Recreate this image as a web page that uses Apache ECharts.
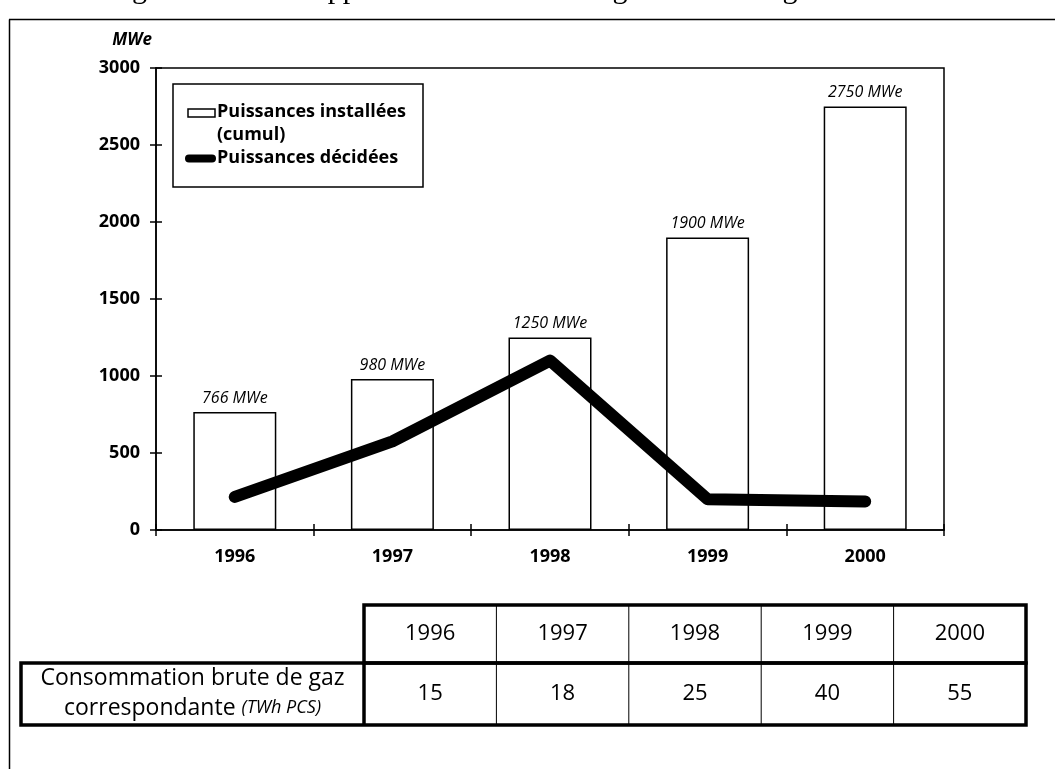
<!DOCTYPE html>
<html>
<head>
<meta charset="utf-8">
<script src="https://cdn.jsdelivr.net/npm/echarts@6/dist/echarts.min.js"></script>
<style>
html,body{margin:0;padding:0;background:#fff;}
#c{width:1055px;height:769px;}
</style>
</head>
<body>
<div id="c"></div>
<script>
// ---- data ----
const years = ['1996', '1997', '1998', '1999', '2000'];
const installed = [766, 980, 1250, 1900, 2750];          // Puissances installées (cumul), MWe
const decided = [215, 575, 1100, 200, 185];               // Puissances décidées, MWe
const yTicks = [0, 500, 1000, 1500, 2000, 2500, 3000];
const tableYears = ['1996', '1997', '1998', '1999', '2000'];
const gasConsumption = [15, 18, 25, 40, 55];              // TWh PCS

const title = 'Figure : Le développement récent de la cogénération au gaz en France';
const legendInstalled = ['Puissances installées', '(cumul)'];
const legendDecided = 'Puissances décidées';
const rowLabel1 = 'Consommation brute de gaz';
const rowLabel2a = 'correspondante ';
const rowLabel2b = '(TWh PCS)';

const SANS = '"Open Sans", "Noto Sans", sans-serif';
const chart = echarts.init(document.getElementById('c'), null, {renderer: 'canvas'});

// table layout
const tX0 = 364, tX1 = 1026, labX0 = 21;
const tY0 = 605, tY1 = 663, tY2 = 725;
const colW = (tX1 - tX0) / tableYears.length;

const graphics = [];
// outer frame
graphics.push({type: 'line', shape: {x1: 9.5, y1: 19.5, x2: 9.5, y2: 769}, style: {stroke: '#000', lineWidth: 1.5}});
graphics.push({type: 'line', shape: {x1: 9, y1: 19.5, x2: 1055, y2: 19.5}, style: {stroke: '#000', lineWidth: 1.5}});
// title (cut off at top)
graphics.push({type: 'text', x: 528, y: -10, style: {text: title, font: '30px "Liberation Serif", "DejaVu Serif", serif', fill: '#000', align: 'center', verticalAlign: 'middle'}});
// legend box
graphics.push({type: 'rect', shape: {x: 173, y: 84, width: 250, height: 103}, style: {fill: '#fff', stroke: '#000', lineWidth: 1.5}, z: 10});
graphics.push({type: 'rect', shape: {x: 188, y: 109, width: 27, height: 8}, style: {fill: '#fff', stroke: '#000', lineWidth: 1.5}, z: 11});
graphics.push({type: 'text', x: 217, y: 112, style: {text: legendInstalled[0], font: 'bold 18px ' + SANS, fill: '#000', verticalAlign: 'middle'}, z: 11});
graphics.push({type: 'text', x: 217, y: 135, style: {text: legendInstalled[1], font: 'bold 18px ' + SANS, fill: '#000', verticalAlign: 'middle'}, z: 11});
graphics.push({type: 'line', shape: {x1: 189, y1: 158.5, x2: 212, y2: 158.5}, style: {stroke: '#000', lineWidth: 8, lineCap: 'round'}, z: 11});
graphics.push({type: 'text', x: 217, y: 158, style: {text: legendDecided, font: 'bold 18px ' + SANS, fill: '#000', verticalAlign: 'middle'}, z: 11});

// table: thin inner dividers
for (let i = 1; i < tableYears.length; i++) {
  const x = tX0 + colW * i;
  graphics.push({type: 'line', shape: {x1: x, y1: tY0, x2: x, y2: tY2}, style: {stroke: '#000', lineWidth: 1}});
}
// thick borders
const thick = {stroke: '#000', lineWidth: 3.5, fill: null};
graphics.push({type: 'rect', shape: {x: tX0, y: tY0, width: tX1 - tX0, height: tY1 - tY0}, style: thick});
graphics.push({type: 'rect', shape: {x: labX0, y: tY1, width: tX1 - labX0, height: tY2 - tY1}, style: thick});
graphics.push({type: 'line', shape: {x1: tX0, y1: tY1, x2: tX0, y2: tY2}, style: {stroke: '#000', lineWidth: 3.5}});
// table texts
const TF = '22px ' + SANS;
tableYears.forEach((y, i) => {
  graphics.push({type: 'text', x: tX0 + colW * (i + 0.5), y: (tY0 + tY1) / 2, style: {text: y, font: TF, fill: '#000', align: 'center', verticalAlign: 'middle'}});
});
gasConsumption.forEach((v, i) => {
  graphics.push({type: 'text', x: tX0 + colW * (i + 0.5), y: (tY1 + tY2) / 2, style: {text: String(v), font: TF, fill: '#000', align: 'center', verticalAlign: 'middle'}});
});
graphics.push({type: 'text', x: (labX0 + tX0) / 2, y: 678, style: {text: rowLabel1, font: '23px ' + SANS, fill: '#000', align: 'center', verticalAlign: 'middle'}});
graphics.push({type: 'text', x: (labX0 + tX0) / 2, y: 708, style: {
  text: '{a|' + rowLabel2a + '}{b|' + rowLabel2b + '}',
  rich: {a: {font: '23px ' + SANS, fill: '#000'}, b: {font: 'italic 18px ' + SANS, fill: '#000'}},
  align: 'center', verticalAlign: 'middle'}});

const axisTickStyle = {color: '#000', width: 1.5};
const option = {
  backgroundColor: '#fff',
  animation: false,
  grid: {left: 156, right: 111, top: 68, bottom: 239, show: true, borderColor: '#000', borderWidth: 1.5, backgroundColor: 'transparent'},
  xAxis: [
    {type: 'category', data: years, boundaryGap: true,
     axisLine: {lineStyle: {color: '#000', width: 1.5}},
     axisTick: {show: true, length: 6, lineStyle: axisTickStyle},
     axisLabel: {color: '#000', fontFamily: SANS, fontWeight: 'bold', fontSize: 18, margin: 18},
     splitLine: {show: false}},
    {type: 'category', data: years, boundaryGap: true, position: 'bottom',
     axisLine: {show: false},
     axisTick: {show: true, inside: true, length: 6, lineStyle: axisTickStyle},
     axisLabel: {show: false}, splitLine: {show: false}}
  ],
  yAxis: [
    {type: 'value', min: yTicks[0], max: yTicks[yTicks.length - 1], interval: yTicks[1] - yTicks[0],
     name: 'MWe', nameLocation: 'end', nameGap: 28,
     nameTextStyle: {color: '#000', fontFamily: SANS, fontWeight: 'bold', fontStyle: 'italic', fontSize: 17, align: 'right', verticalAlign: 'middle', padding: [0, 4, 0, 0]},
     axisLine: {show: true, lineStyle: {color: '#000', width: 1.5}},
     axisTick: {show: true, length: 6, lineStyle: axisTickStyle},
     axisLabel: {color: '#000', fontFamily: SANS, fontWeight: 'bold', fontSize: 18, margin: 16, formatter: v => String(v)},
     splitLine: {show: false}},
    {type: 'value', min: yTicks[0], max: yTicks[yTicks.length - 1], interval: yTicks[1] - yTicks[0], position: 'left',
     axisLine: {show: false},
     axisTick: {show: true, inside: true, length: 6, lineStyle: axisTickStyle},
     axisLabel: {show: false}, splitLine: {show: false}}
  ],
  series: [
    {type: 'bar', name: legendInstalled.join(' '), data: installed, barWidth: 83,
     itemStyle: {color: '#fff', borderColor: '#000', borderWidth: 1.5},
     label: {show: true, position: 'top', distance: 6, color: '#000', fontFamily: SANS, fontStyle: 'italic', fontSize: 16,
             formatter: p => p.value + ' MWe'}},
    {type: 'line', name: legendDecided, data: decided, symbol: 'none', z: 5,
     lineStyle: {color: '#000', width: 12, cap: 'round', join: 'round'}}
  ],
  graphic: graphics
};
chart.setOption(option);
</script>
</body>
</html>
